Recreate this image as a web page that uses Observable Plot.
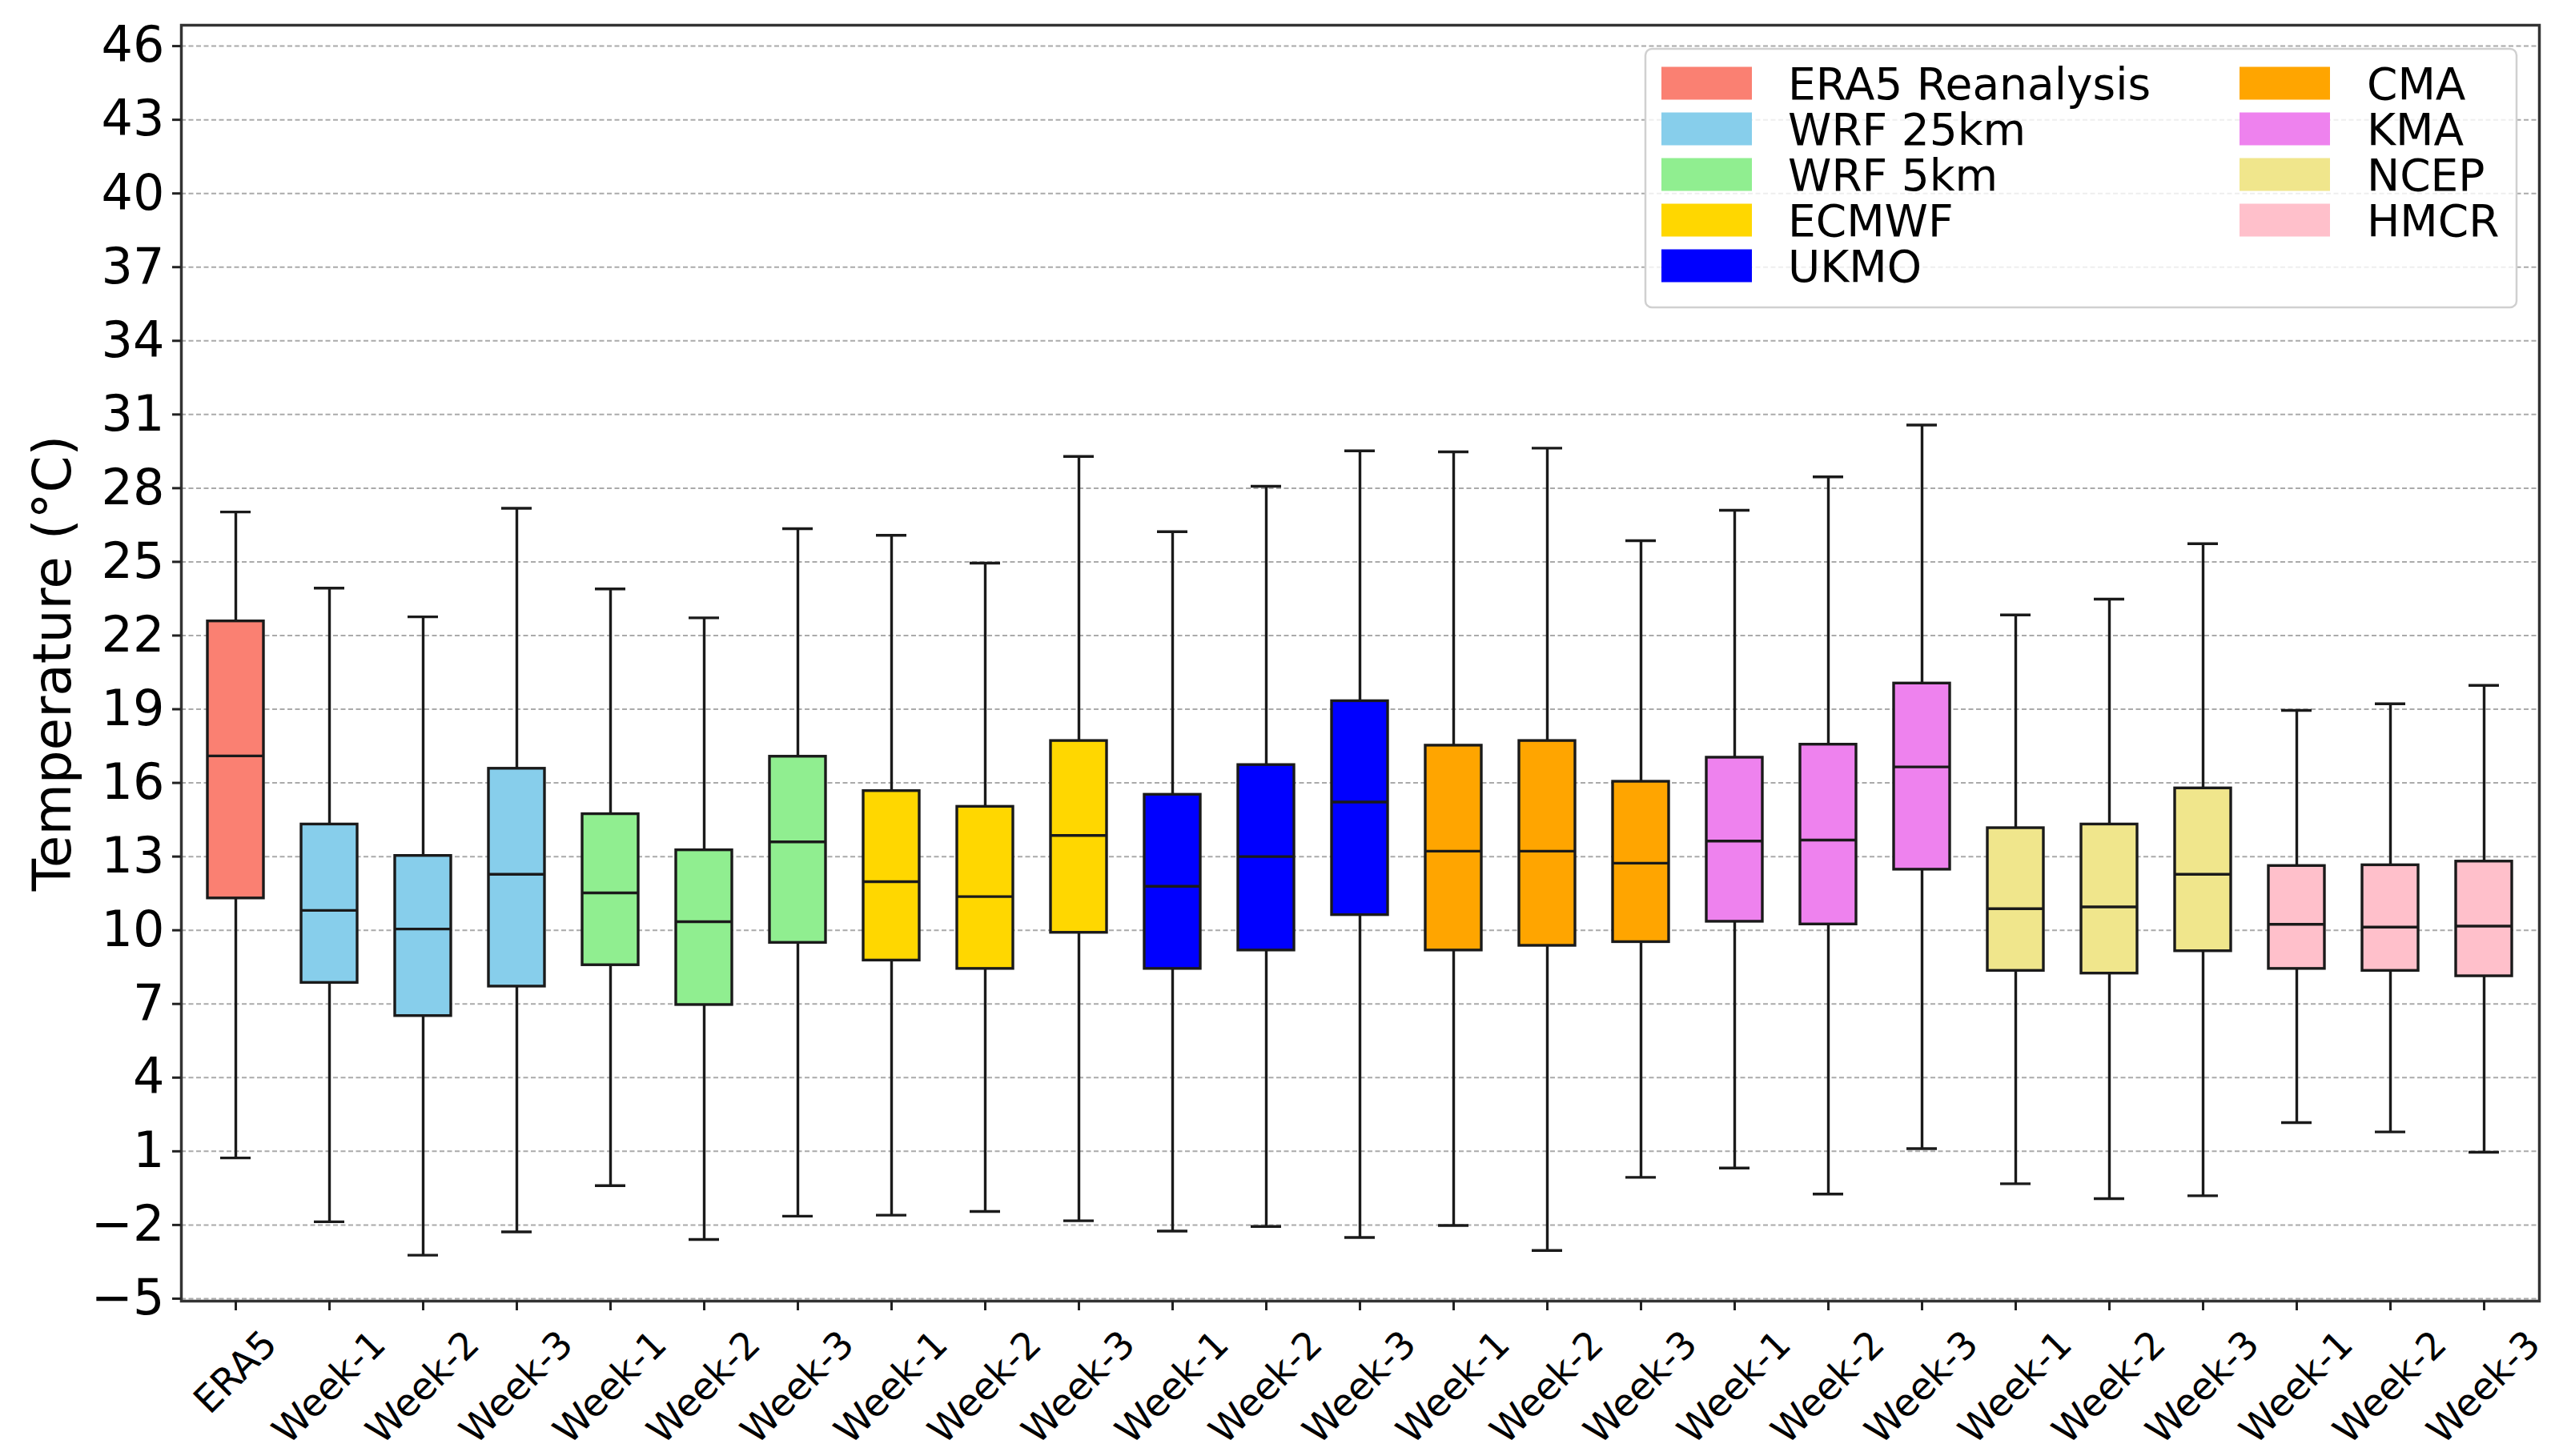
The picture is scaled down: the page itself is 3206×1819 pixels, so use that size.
<!DOCTYPE html>
<html>
<head>
<meta charset="utf-8">
<script src="https://cdn.jsdelivr.net/npm/d3@7"></script>
<script src="https://cdn.jsdelivr.net/npm/@observablehq/plot@0.6"></script>
<style>
  html, body { margin: 0; padding: 0; background: #fff; }
  #wrap { position: relative; width: 3206px; height: 1819px; font-family: "DejaVu Sans", sans-serif; }
  #legend { position: absolute; left: 0; top: 0; pointer-events: none; }
</style>
</head>
<body>
<div id="wrap"></div>
<script>
// ---- data ----
const keys = ["ERA5",
  "WRF25-W1","WRF25-W2","WRF25-W3",
  "WRF5-W1","WRF5-W2","WRF5-W3",
  "ECMWF-W1","ECMWF-W2","ECMWF-W3",
  "UKMO-W1","UKMO-W2","UKMO-W3",
  "CMA-W1","CMA-W2","CMA-W3",
  "KMA-W1","KMA-W2","KMA-W3",
  "NCEP-W1","NCEP-W2","NCEP-W3",
  "HMCR-W1","HMCR-W2","HMCR-W3"];
const tickLabels = ["ERA5",
  "Week-1","Week-2","Week-3","Week-1","Week-2","Week-3",
  "Week-1","Week-2","Week-3","Week-1","Week-2","Week-3",
  "Week-1","Week-2","Week-3","Week-1","Week-2","Week-3",
  "Week-1","Week-2","Week-3","Week-1","Week-2","Week-3"];
const boxModel = [0, 1,1,1, 2,2,2, 3,3,3, 4,4,4, 5,5,5, 6,6,6, 7,7,7, 8,8,8];
const models = ["ERA5 Reanalysis","WRF 25km","WRF 5km","ECMWF","UKMO","CMA","KMA","NCEP","HMCR"];
const modelColors = ["#FA8072","#87CEEB","#90EE90","#FFD700","#0000FF","#FFA500","#EE82EE","#F0E68C","#FFC0CB"];

const whiskerHigh = [27.03, 23.93, 22.76, 27.18, 23.9, 22.72, 26.35, 26.08, 24.95, 29.29, 26.23, 28.08, 29.52, 29.48, 29.63, 25.86, 27.1, 28.46, 30.57, 22.84, 23.48, 25.74, 18.95, 19.22, 19.97];
const q3 =          [22.58, 14.31, 13.03, 16.58, 14.73, 13.26, 17.07, 15.67, 15.03, 17.71, 15.52, 16.73, 19.33, 17.52, 17.71, 16.05, 17.03, 17.56, 20.05, 14.16, 14.31, 15.78, 12.62, 12.65, 12.8];
const median =      [17.1, 10.81, 10.05, 12.28, 11.52, 10.35, 13.6, 11.98, 11.37, 13.86, 11.79, 13.0, 15.22, 13.22, 13.22, 12.73, 13.63, 13.67, 16.65, 10.88, 10.95, 12.28, 10.24, 10.13, 10.17];
const q1 =          [11.3, 7.86, 6.51, 7.71, 8.58, 6.96, 9.49, 8.77, 8.43, 9.9, 8.43, 9.18, 10.62, 9.18, 9.37, 9.52, 10.35, 10.24, 12.47, 8.35, 8.24, 9.15, 8.43, 8.35, 8.13];
const whiskerLow =  [0.73, -1.87, -3.23, -2.28, -0.4, -2.59, -1.64, -1.6, -1.45, -1.83, -2.25, -2.06, -2.51, -2.02, -3.04, -0.06, 0.32, -0.74, 1.11, -0.32, -0.93, -0.81, 2.17, 1.79, 0.96];

const yTicks = [-5, -2, 1, 4, 7, 10, 13, 16, 19, 22, 25, 28, 31, 34, 37, 40, 43, 46];
const yLabel = "Temperature (°C)";

// ---- table ----
const rows = keys.map((k, i) => ({
  key: k, label: tickLabels[i], color: modelColors[boxModel[i]],
  lo: whiskerLow[i], q1: q1[i], med: median[i], q3: q3[i], hi: whiskerHigh[i]
}));

const ink = "#1a1a1a";
const chart = Plot.plot({
  width: 3206,
  height: 1819,
  marginLeft: 226,
  marginRight: 35,
  marginTop: 31,
  marginBottom: 194,
  style: { fontFamily: "DejaVu Sans, sans-serif", background: "white", color: "black" },
  x: { type: "band", domain: keys, paddingInner: 0.4, paddingOuter: 0.2, label: null },
  y: { domain: [-5.1, 46.85], label: null },
  marks: [
    Plot.gridY(yTicks, { stroke: "#aaaaaa", strokeOpacity: 1, strokeWidth: 2, strokeDasharray: "6,3.5" }),
    Plot.ruleX(rows, { x: "key", y1: "lo", y2: "q1", stroke: ink, strokeWidth: 3.4 }),
    Plot.ruleX(rows, { x: "key", y1: "q3", y2: "hi", stroke: ink, strokeWidth: 3.4 }),
    Plot.tickY(rows, { x: "key", y: "lo", stroke: ink, strokeWidth: 3.4, insetLeft: 16, insetRight: 16 }),
    Plot.tickY(rows, { x: "key", y: "hi", stroke: ink, strokeWidth: 3.4, insetLeft: 16, insetRight: 16 }),
    Plot.barY(rows, { x: "key", y1: "q1", y2: "q3", fill: { value: "color", scale: null }, stroke: ink, strokeWidth: 3.4 }),
    Plot.tickY(rows, { x: "key", y: "med", stroke: ink, strokeWidth: 3.4 }),
    Plot.frame({ stroke: "#333", strokeWidth: 3.5 }),
    Plot.axisY({ ticks: yTicks, tickSize: 11, tickPadding: 10, fontSize: 62, label: null, stroke: "#222", strokeWidth: 3, fill: "black" }),
    Plot.axisX({ tickSize: 12, tickFormat: () => "", label: null, stroke: "#222", strokeWidth: 3 }),
    Plot.text(rows.filter(d => d.label === "ERA5"), { x: "key", text: "label", frameAnchor: "bottom", dy: 89, rotate: -45, fontSize: 47, textAnchor: "middle", lineAnchor: "middle", fill: "black" }),
    Plot.text(rows.filter(d => d.label !== "ERA5"), { x: "key", text: "label", frameAnchor: "bottom", dy: 108, rotate: -45, fontSize: 47, textAnchor: "middle", lineAnchor: "middle", fill: "black" }),
    Plot.text([yLabel], { text: d => d, frameAnchor: "left", dx: -160, rotate: -90, fontSize: 66, textAnchor: "middle", lineAnchor: "middle", fill: "black" })
  ]
});
const wrap = document.getElementById("wrap");
wrap.appendChild(chart);

// ---- legend overlay ----
const lg = d3.select(wrap).append("svg")
  .attr("id", "legend").attr("width", 3206).attr("height", 1819)
  .style("font-family", "DejaVu Sans, sans-serif");
lg.append("rect")
  .attr("x", 2055).attr("y", 61).attr("width", 1088).attr("height", 323)
  .attr("rx", 8).attr("fill", "white").attr("fill-opacity", 0.8)
  .attr("stroke", "#d0d0d0").attr("stroke-width", 2.5);
models.forEach((m, i) => {
  const col = i < 5 ? 0 : 1;
  const row = i < 5 ? i : i - 5;
  const cy = 104 + row * 57;
  const px = col === 0 ? 2075 : 2797;
  const tx = col === 0 ? 2233 : 2956;
  lg.append("rect").attr("x", px).attr("y", cy - 20.5).attr("width", 113).attr("height", 41)
    .attr("fill", modelColors[i]);
  lg.append("text").attr("x", tx).attr("y", cy + 19.5).attr("font-size", 55).attr("fill", "black").text(m);
});
</script>
</body>
</html>
